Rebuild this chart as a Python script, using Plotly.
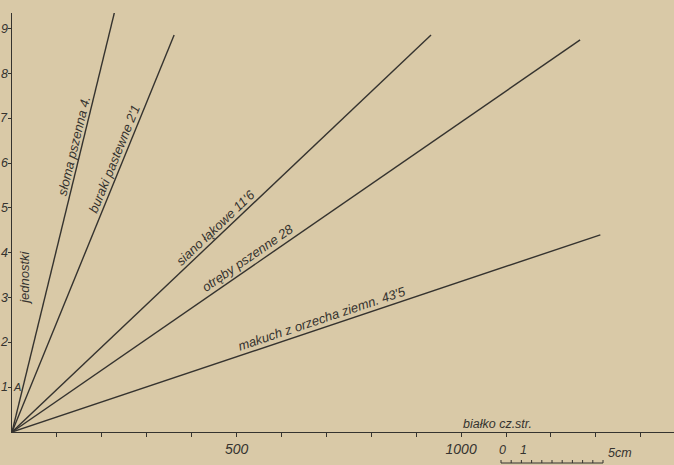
import math
import plotly.graph_objects as go

# ---- data ----
feeds = ["słoma pszenna 4.", "buraki pastewne 2'1", "siano łąkowe 11'6",
         "otręby pszenne 28", "makuch z orzecha ziemn. 43'5"]
x_end = [229, 361, 933, 1265, 1310]      # białko cz.str. at line end
y_end = [9.40, 8.86, 8.86, 8.75, 4.40]   # jednostki at line end
label_t = [0.674, 0.68, 0.50, 0.425, 0.532]     # position of label along line
label_d = [8, 8, 8.5, 9, 9]                     # perpendicular offset (px)

x_tickvals = list(range(100, 1500, 100))
x_ticktext = ["500" if v == 500 else "1000" if v == 1000 else "" for v in x_tickvals]
y_tickvals = [1, 2, 3, 4, 5, 6, 7, 8, 9]

# ---- layout geometry ----
W, H = 674, 465
ML, MR, MT, MB = 12, 0, 13, 33
XMAX, YMAX = 1474, 9.35
pw, ph = W - ML - MR, H - MT - MB
sx, sy = pw / XMAX, ph / YMAX   # px per unit

BG = "#d9c9a7"
INK = "#35332f"
FONT = "Liberation Sans"

fig = go.Figure()
for name, xe, ye in zip(feeds, x_end, y_end):
    fig.add_trace(go.Scatter(x=[0, xe], y=[0, ye], mode="lines", name=name,
                             line=dict(color=INK, width=1.4), hoverinfo="skip",
                             showlegend=False))

annotations = []
for name, xe, ye, t, d in zip(feeds, x_end, y_end, label_t, label_d):
    dxp, dyp = xe * sx, ye * sy
    L = math.hypot(dxp, dyp)
    ang = math.degrees(math.atan2(dyp, dxp))
    px_, py_ = -dyp / L, dxp / L
    annotations.append(dict(
        x=xe * t, y=ye * t, xref="x", yref="y", text=name, showarrow=False,
        textangle=-ang, xshift=px_ * d, yshift=py_ * d,
        font=dict(family=FONT, size=13, color=INK, style="italic")))

# y tick labels (drawn as text so they fit the narrow left margin)
for v in y_tickvals:
    annotations.append(dict(x=0, y=v, xref="paper", yref="y", text=str(v),
                            xanchor="right", yanchor="middle", xshift=-2,
                            showarrow=False,
                            font=dict(family=FONT, size=12.5, color=INK, style="italic")))

annotations += [
    dict(x=0, y=3.44, xref="paper", yref="y", text="jednostki", xanchor="center",
         showarrow=False, textangle=-90, xshift=13,
         font=dict(family=FONT, size=13, color=INK, style="italic")),
    dict(x=0, y=1, xref="x", yref="y", text="A", showarrow=False, xshift=5,
         font=dict(family=FONT, size=11, color=INK, style="italic")),
    dict(x=1080, y=0, xref="x", yref="y", text="białko cz.str.", showarrow=False,
         yshift=8, font=dict(family=FONT, size=12.5, color=INK, style="italic")),
]

# scale bar (0 .. 5 cm) below the axis
bar_x0, bar_x1 = 501, 603
bar_y = 463
def pxx(p):
    return (p - ML) / pw
def pxy(p):
    return (H - MB - p) / ph
shapes = [dict(type="line", xref="paper", yref="paper", x0=pxx(bar_x0), x1=pxx(bar_x1),
               y0=pxy(bar_y), y1=pxy(bar_y), line=dict(color=INK, width=1))]
for i in range(11):
    xp = bar_x0 + (bar_x1 - bar_x0) * i / 10
    shapes.append(dict(type="line", xref="paper", yref="paper", x0=pxx(xp), x1=pxx(xp),
                       y0=pxy(bar_y), y1=pxy(bar_y - 3), line=dict(color=INK, width=1)))
for txt, xp, yp in [("0", bar_x0 + 1, bar_y - 13), ("1", bar_x0 + 22, bar_y - 13),
                    ("5cm", bar_x1 + 17, bar_y - 10)]:
    annotations.append(dict(x=pxx(xp), y=pxy(yp), xref="paper", yref="paper",
                            xanchor="center", yanchor="middle",
                            text=txt, showarrow=False,
                            font=dict(family=FONT, size=12.5, color=INK, style="italic")))

fig.update_layout(
    width=W, height=H, margin=dict(l=ML, r=MR, t=MT, b=MB, autoexpand=False),
    paper_bgcolor=BG, plot_bgcolor=BG, showlegend=False,
    annotations=annotations, shapes=shapes,
    xaxis=dict(range=[0, XMAX], tickvals=x_tickvals, ticktext=x_ticktext,
               showgrid=False, zeroline=False, showline=True, linecolor=INK,
               linewidth=1.2, ticks="outside", ticklen=4, tickcolor=INK,
               automargin=False,
               tickfont=dict(family=FONT, size=14, color=INK, style="italic")),
    yaxis=dict(range=[0, YMAX], tickvals=y_tickvals, showticklabels=False,
               showgrid=False, zeroline=False,
               showline=True, linecolor=INK, linewidth=1.4, ticks="outside",
               ticklen=3, tickcolor=INK, automargin=False),
)

fig.write_html("out.html", config={"displayModeBar": False},
               post_script="document.body.style.margin='0';"
                           "document.body.style.overflow='hidden';"
                           "document.body.style.background='" + BG + "';")
